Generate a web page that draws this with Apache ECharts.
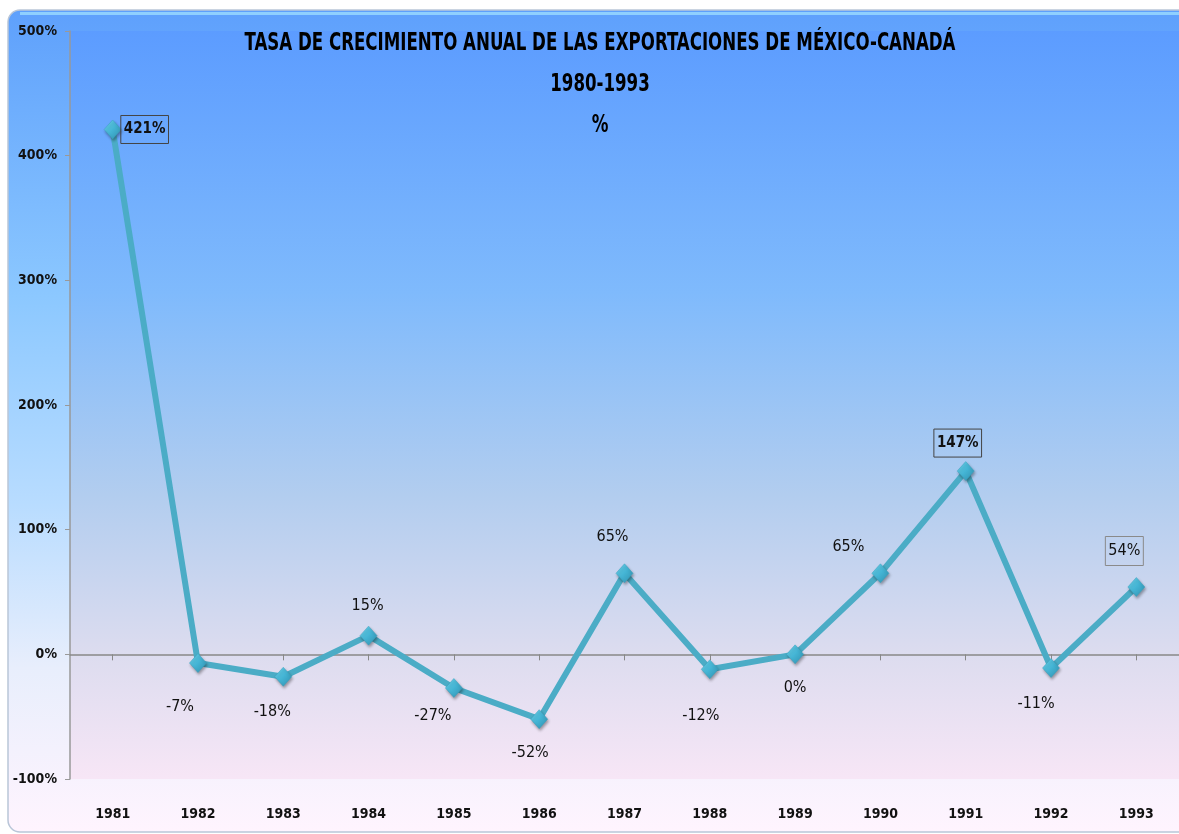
<!DOCTYPE html>
<html>
<head>
<meta charset="utf-8">
<script src="https://cdn.jsdelivr.net/npm/echarts@6/dist/echarts.min.js"></script>
<style>
html,body{margin:0;padding:0;background:#fff;}
#chart{width:1179px;height:834px;}
</style>
</head>
<body>
<div id="chart"></div>
<script>
// ---- data ----
const years = ['1981','1982','1983','1984','1985','1986','1987','1988','1989','1990','1991','1992','1993'];
const growthPct = [421, -7, -18, 15, -27, -52, 65, -12, 0, 65, 147, -11, 54];
const yTicks = { min: -100, max: 500, interval: 100 };
const titleLines = ['TASA DE CRECIMIENTO ANUAL DE LAS EXPORTACIONES DE MÉXICO-CANADÁ', '1980-1993', '%'];

// ---- label styling (presentation only) ----
const labelOffsets = [[32,0],[-18,44],[-11,35],[-1,-30],[-21,28],[-9,34],[-12,-36],[-9,47],[0,34],[-32,-26],[-8,-28],[-15,36],[-12,-36]];
const boxed = {0:'#444', 10:'#444', 12:'#8a8a8a'};
const boldIdx = {0:true, 10:true};

const FONT = '"Liberation Sans Narrow","DejaVu Sans Condensed","Liberation Sans",sans-serif';

const seriesData = growthPct.map((v, i) => {
  const lab = {
    show: true,
    position: 'inside',
    offset: labelOffsets[i],
    formatter: v + '%',
    fontFamily: FONT,
    fontSize: boldIdx[i] ? 15 : 16,
    color: '#111',
    fontWeight: boldIdx[i] ? 'bold' : 'normal'
  };
  if (boxed[i]) {
    lab.borderColor = boxed[i];
    lab.borderWidth = 1;
    lab.padding = [7, 3, 6, 3];
  }
  return { value: v, label: lab };
});

const chart = echarts.init(document.getElementById('chart'), null, {renderer: 'canvas'});
chart.setOption({
  animation: false,
  backgroundColor: 'transparent',
  graphic: [
    {
      type: 'rect', z: -10, silent: true,
      shape: { x: 8, y: 10, width: 1220, height: 822, r: 12 },
      style: {
        fill: new echarts.graphic.LinearGradient(0, 0, 0, 1, [
          { offset: 0, color: '#5ea0fc' },
          { offset: 0.35, color: '#8cc8ff' },
          { offset: 0.6, color: '#b8dcff' },
          { offset: 0.8, color: '#e8eefc' },
          { offset: 1, color: '#fff4fe' }
        ]),
        stroke: '#b9c6d8', lineWidth: 1.5
      }
    },
    {
      type: 'rect', z: -9, silent: true,
      shape: { x: 20, y: 12, width: 1200, height: 3 },
      style: { fill: '#8fd0ff' }
    },
    ...titleLines.map((t, i) => ({
      type: 'text', z: 100, silent: true,
      x: 600, y: 43 + i * 41, scaleX: 0.74,
      style: {
        text: t, fontFamily: FONT, fontWeight: 'bold', fontSize: 25,
        fill: '#000', textAlign: 'center', textVerticalAlign: 'middle'
      }
    }))
  ],
  grid: {
    left: 70, top: 31, width: 1113, height: 748,
    show: true, borderWidth: 0,
    backgroundColor: new echarts.graphic.LinearGradient(0, 0, 0, 1, [
      { offset: 0, color: '#5c9cff' },
      { offset: 0.35, color: '#7fbafc' },
      { offset: 0.62, color: '#b2cdef' },
      { offset: 0.83, color: '#dcdcef' },
      { offset: 1, color: '#f7e6f6' }
    ])
  },
  xAxis: [
    {
      type: 'category', data: years, position: 'bottom', boundaryGap: true,
      axisLine: { show: true, onZero: true, lineStyle: { color: '#888', width: 1.5 } },
      axisTick: { show: true, alignWithLabel: true, length: 6, lineStyle: { color: '#888' } },
      axisLabel: { show: false }
    },
    {
      type: 'category', data: years, position: 'bottom', boundaryGap: true,
      axisLine: { show: false, onZero: false }, axisTick: { show: false },
      axisLabel: { fontFamily: FONT, fontWeight: 'bold', fontSize: 14, color: '#111', margin: 28 }
    }
  ],
  yAxis: {
    type: 'value', min: yTicks.min, max: yTicks.max, interval: yTicks.interval,
    axisLine: { show: true, lineStyle: { color: '#999', width: 1.5 } },
    axisTick: { show: true, length: 5, lineStyle: { color: '#999' } },
    splitLine: { show: false },
    axisLabel: { formatter: '{value}%', fontFamily: FONT, fontWeight: 'bold', fontSize: 14, color: '#111', margin: 13 }
  },
  series: [{
    type: 'line', xAxisIndex: 0, data: seriesData,
    symbol: 'diamond', symbolSize: [17, 19],
    lineStyle: { color: '#4bacc6', width: 6 },
    itemStyle: {
      color: new echarts.graphic.LinearGradient(0, 0, 1, 1, [
        { offset: 0, color: '#6fd6ee' },
        { offset: 0.5, color: '#44b4d4' },
        { offset: 1, color: '#2f8fae' }
      ]),
      borderColor: '#3aa0bf', borderWidth: 0.5,
      shadowColor: 'rgba(0,0,0,0.35)', shadowBlur: 3, shadowOffsetX: 1, shadowOffsetY: 2
    },
    z: 5
  }]
});
</script>
</body>
</html>
